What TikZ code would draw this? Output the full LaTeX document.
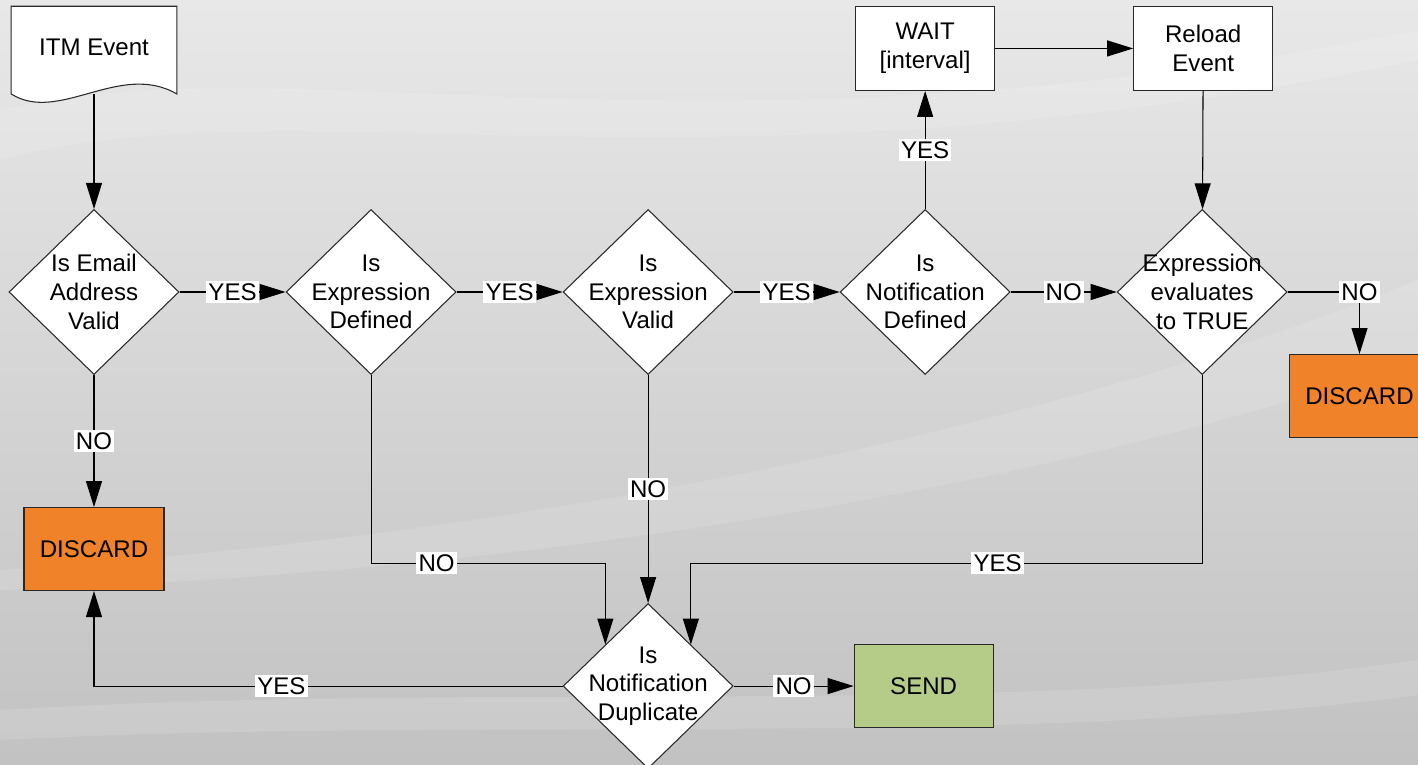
\documentclass[tikz,border=0pt]{standalone}
\usepackage{fontspec}
\setmainfont{Liberation Sans}
\usetikzlibrary{positioning, shapes.geometric, arrows.meta}

\definecolor{discardorange}{RGB}{240,130,42}
\definecolor{sendgreen}{RGB}{181,203,136}
\definecolor{edgegray}{RGB}{40,40,40}

\begin{document}
\begin{tikzpicture}[
    font=\fontsize{13.7}{16.4}\selectfont,
    decision/.style={diamond, draw=edgegray, fill=white, line width=0.6pt, minimum width=3.4cm, minimum height=3.3cm, inner sep=0pt},
    dlabel/.style={align=center, inner sep=0pt},
    stepbox/.style={rectangle, draw=edgegray, fill=white, line width=0.6pt, minimum width=2.78cm, minimum height=1.68cm, align=center},
    discard/.style={stepbox, fill=discardorange, minimum width=2.8cm, minimum height=1.66cm},
    sendbox/.style={stepbox, fill=sendgreen, minimum height=1.66cm},
    docbox/.style={rectangle, minimum width=3.3cm, minimum height=1.74cm},
    flow/.style={-{Triangle[length=0.52cm, width=0.32cm]}, line width=0.6pt, draw=black},
    tag/.style={fill=white, inner sep=1.2pt},
    node distance=2.12cm
  ]

    % background
    \useasboundingbox (0,0) rectangle (28.36,-15.3);
    \shade[top color=black!9, bottom color=black!24] (0,0) rectangle (28.36,-15.3);
    \fill[white, opacity=0.12] (0,-2.2) .. controls (6,-0.8) and (14,-3.5) .. (28.36,-0.6) -- (28.36,-1.2) .. controls (14,-4.2) and (6,-1.6) .. (0,-3.2) -- cycle;
    \fill[white, opacity=0.12] (0,-11.4) .. controls (12,-10.6) and (22,-8.2) .. (28.36,-5.6) -- (28.36,-7.2) .. controls (22,-9.4) and (12,-11.4) .. (0,-11.8) -- cycle;
    \fill[white, opacity=0.12] (0,-14.2) .. controls (10,-13.6) and (20,-14.4) .. (28.36,-13.2) -- (28.36,-13.9) .. controls (20,-15) and (10,-14.3) .. (0,-14.8) -- cycle;

    % main row
    \node[decision] (valid) at (1.88,-5.84) {};
    \node[decision, right=of valid] (exdef) {};
    \node[decision, right=of exdef] (exvalid) {};
    \node[decision, right=of exvalid] (notifdef) {};
    \node[decision, right=of notifdef] (evaltrue) {};

    \node[dlabel] (validtxt) at (valid) {Is Email\\Address\\Valid};
    \node[dlabel] (exdeftxt) at (exdef) {Is\\Expression\\Defined};
    \node[dlabel] (exvalidtxt) at (exvalid) {Is\\Expression\\Valid};
    \node[dlabel] (notifdeftxt) at (notifdef) {Is\\Notification\\Defined};
    \node[dlabel] (evaltruetxt) at (evaltrue) {Expression\\evaluates\\to TRUE};

    % event document
    \node[docbox, above=2.3cm of valid] (itm) {};
    \draw[draw=edgegray, fill=white, line width=0.6pt] (itm.south east) -- (itm.north east) -- (itm.north west) -- (itm.south west)
      .. controls +(0.96,-0.6) and +(-1.14,0.66) .. (itm.south east) -- cycle;
    \node (itmtxt) at ([yshift=0.06cm]itm.center) {ITM Event};

    % top boxes
    \node[stepbox, above=2.36cm of notifdef] (wait) {WAIT\\{[}interval{]}};
    \node[stepbox, right=2.76cm of wait] (reload) {Reload\\Event};

    % lower part
    \node[discard, below=2.64cm of valid] (discA) {DISCARD};
    \node[decision, below=4.56cm of exvalid] (dup) {};
    \node[dlabel] (duptxt) at (dup) {Is\\Notification\\Duplicate};
    \node[sendbox, right=2.4cm of dup] (send) {SEND};
    \node[discard, anchor=north west] (discB) at (25.78,-7.08) {DISCARD};

    % connectors
    \draw[flow] (itm.south) -- (valid.north);
    \draw[flow] (valid) -- node[tag]{YES} (exdef);
    \draw[flow] (exdef) -- node[tag]{YES} (exvalid);
    \draw[flow] (exvalid) -- node[tag]{YES} (notifdef);
    \draw[flow] (notifdef) -- node[tag]{NO} (evaltrue);
    \draw[flow] (notifdef) -- node[tag]{YES} (wait);
    \draw[flow] (wait) -- (reload);
    \draw[flow] (reload) -- (evaltrue);
    \draw[flow] (evaltrue.east) -| node[tag, pos=0.5]{NO} (discB.north);
    \draw[flow] (valid) -- node[tag]{NO} (discA);
    \draw[flow] (exdef.south) -- ++(0,-3.76) -| node[tag, pos=0.14]{NO} (dup.north west);
    \draw[flow] (exvalid) -- node[tag]{NO} (dup);
    \draw[flow] (evaltrue.south) -- ++(0,-3.76) -| node[tag, pos=0.2]{YES} (dup.north east);
    \draw[flow] (dup.west) -| node[tag, pos=0.3]{YES} (discA.south);
    \draw[flow] (dup) -- node[tag]{NO} (send);
  \end{tikzpicture}
\end{document}
